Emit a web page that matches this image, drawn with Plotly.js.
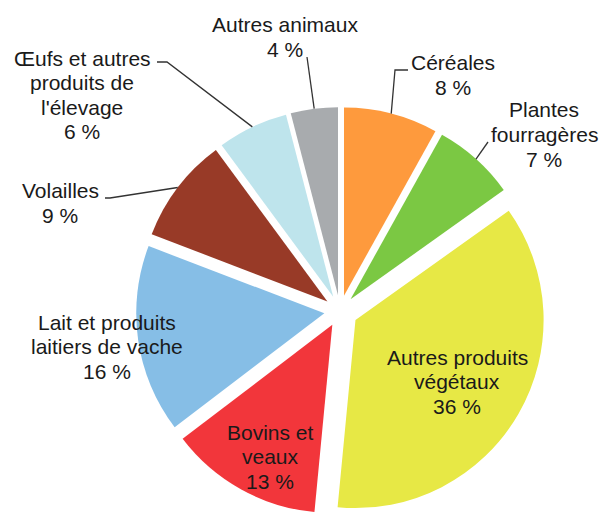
<!DOCTYPE html>
<html>
<head>
<meta charset="utf-8">
<script src="https://cdn.plot.ly/plotly-3.0.1.min.js"></script>
<style>html,body{margin:0;padding:0;background:#fff;}#chart{width:601px;height:517px;}</style>
</head>
<body>
<div id="chart"></div>
<script>
// ---- data ----
const categories = ['Céréales', 'Plantes fourragères', 'Autres produits végétaux', 'Bovins et veaux',
  'Lait et produits laitiers de vache', 'Volailles', "Œufs et autres produits de l'élevage", 'Autres animaux'];
const values = [8, 7, 36, 13, 16, 9, 6, 4];
const labelLines = [['Céréales'], ['Plantes', 'fourragères'], ['Autres produits', 'végétaux'], ['Bovins et', 'veaux'],
  ['Lait et produits', 'laitiers de vache'], ['Volailles'], ['Œufs et autres', 'produits de', "l'élevage"], ['Autres animaux']];
const colors = ['#FE9A3D', '#7BC843', '#E7E845', '#F2363B', '#86BEE6', '#983A27', '#BEE4EC', '#A8ABAE'];

// ---- layout (pixel geometry) ----
const W = 601, H = 517;
const CX = 340, CY = 311, BOXW = 418;
const BOXH = 2 * (H - CY);
const pulls = [0.084, 0.084, 0.095, 0.084, 0.084, 0.084, 0.084, 0.084];
const maxPull = Math.max(...pulls);
const R = Math.min(BOXW, BOXH) / (2 + 2 * maxPull);
const labelPos = [[453, 63], [544, 110], [457, 357], [270, 432], [107, 322], [60, 191], [82, 58], [285, 25]];
const lineGap = 24.5;
const leaderStart = {0: [[408, 70], [395, 70]], 1: [[488, 142]], 5: [[105, 198], [110, 198]], 6: [[157, 62], [167, 62]], 7: [[307, 57]]};

const px = x => x / W, py = y => 1 - y / H;
const total = values.reduce((a, b) => a + b, 0);

const annotations = [];
labelLines.forEach((lines, i) => {
  const all = lines.concat([values[i] + ' %']);
  all.forEach((t, k) => {
    annotations.push({
      xref: 'paper', yref: 'paper', x: px(labelPos[i][0]), y: py(labelPos[i][1] + k * lineGap),
      xanchor: 'center', yanchor: 'middle', text: t, showarrow: false,
      font: {family: 'Liberation Sans, Arial, sans-serif', size: 21, color: '#1a1a1a'}
    });
  });
});

const shapes = [];
let cum = 0;
values.forEach((v, i) => {
  const mid = (cum + v / 2) / total * 2 * Math.PI;
  cum += v;
  if (!leaderStart[i]) return;
  const rr = R * (1 + pulls[i]);
  const ex = CX + rr * Math.sin(mid), ey = CY - rr * Math.cos(mid);
  const pts = leaderStart[i].concat([[ex, ey]]);
  const path = pts.map((p, k) => (k ? 'L' : 'M') + px(p[0]) + ',' + py(p[1])).join(' ');
  shapes.push({type: 'path', xref: 'paper', yref: 'paper', path: path, line: {color: '#333', width: 1.3}});
});

const trace = {
  type: 'pie', labels: categories, values: values, sort: false, direction: 'clockwise', rotation: 0,
  pull: pulls, marker: {colors: colors, line: {width: 0}}, textinfo: 'none', hoverinfo: 'skip',
  showlegend: false,
  domain: {x: [px(CX - BOXW / 2), px(CX + BOXW / 2)], y: [0, 1 - (CY - BOXH / 2) / H]}
};

Plotly.newPlot('chart', [trace], {
  width: W, height: H, margin: {l: 0, r: 0, t: 0, b: 0},
  paper_bgcolor: '#fff', showlegend: false, annotations: annotations, shapes: shapes
}, {staticPlot: true});
</script>
</body>
</html>
